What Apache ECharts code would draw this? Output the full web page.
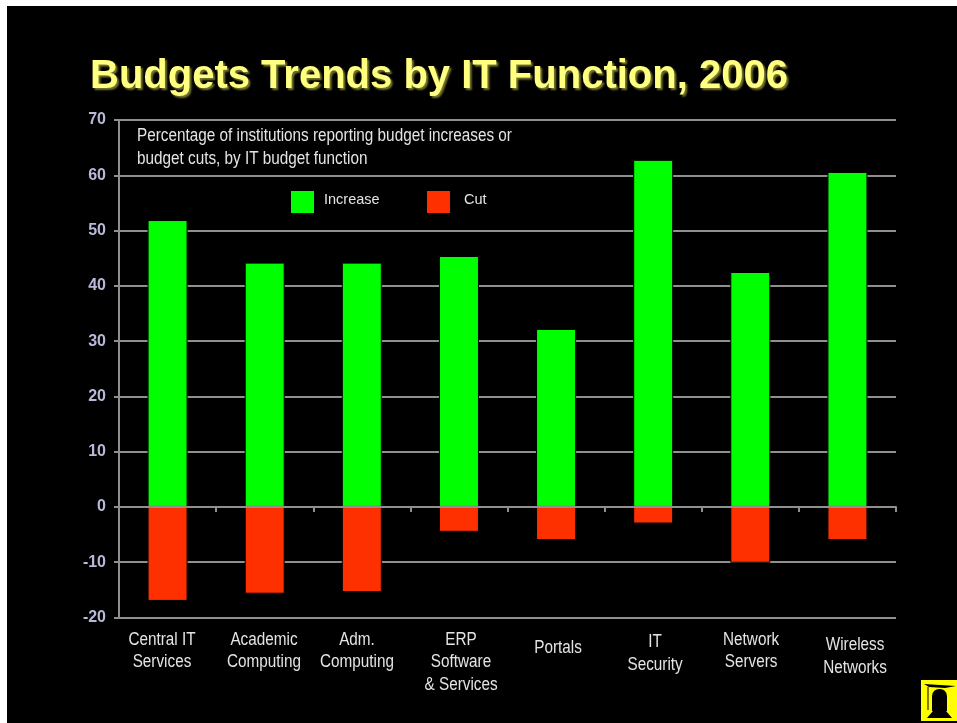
<!DOCTYPE html>
<html>
<head>
<meta charset="utf-8">
<style>
  html, body { margin: 0; height: 100%; background: #fff; overflow: hidden; }
  #frame { position: absolute; left: 7px; top: 6px; right: 0; bottom: 0; background: #000; }
  #chart { position: absolute; left: 0; top: 0; width: 957px; height: 723px; }
</style>
<script src="https://cdn.jsdelivr.net/npm/echarts@6/dist/echarts.min.js"></script>
</head>
<body>
<div id="frame"></div>
<div id="chart"></div>
<script>
const categories = ["Central IT\nServices", "Academic\nComputing", "Adm.\nComputing", "ERP\nSoftware\n& Services", "Portals", "IT\nSecurity", "Network\nServers", "Wireless\nNetworks"];
const increase = [51.9, 44.2, 44.2, 45.4, 32.2, 62.8, 42.5, 60.6];
const cut = [-17, -15.7, -15.4, -4.5, -6, -3, -10.1, -6];

// the slide's labels are hand placed, so they sit off the band centres
const labelDx = [-5.6, -0.7, -4.8, 2.1, 2, 1.9, 0.8, 7.6];
const labelTop = [628.5, 628.5, 628.5, 628.5, 637, 631, 628.5, 634];

const fontName = '"Liberation Sans", sans-serif';
const textColor = "#e4e4e4";
const gridColor = "#8f8f8f";
const squeeze = 0.874; // source text is a condensed Arial

const chart = echarts.init(document.getElementById("chart"), null, { renderer: "canvas" });

const legendText = (leftPad) => ({
  color: textColor,
  fontFamily: fontName,
  fontSize: 14.5,
  rich: { t: { color: textColor, fontFamily: fontName, fontSize: 14.5, padding: [0, 0, 4, leftPad] } },
});

chart.setOption({
  animation: false,
  backgroundColor: "transparent",
  title: {
    text: "Budgets Trends by IT Function, 2006",
    left: 85,
    top: 52,
    padding: 5,
    textStyle: {
      color: "#ffff80",
      fontFamily: "Liberation Sans",
      fontWeight: "bold",
      fontSize: 40,
      textShadowColor: "rgba(150,150,60,0.8)",
      textShadowBlur: 2,
      textShadowOffsetX: 2,
      textShadowOffsetY: 2,
    },
  },
  legend: [
    {
      data: ["Increase"],
      left: 291,
      top: 191,
      padding: 0,
      itemWidth: 23,
      itemHeight: 22,
      icon: "rect",
      itemStyle: { borderWidth: 0 },
      formatter: "{t|{name}}",
      textStyle: legendText(5),
    },
    {
      data: ["Cut"],
      left: 427,
      top: 191,
      padding: 0,
      itemWidth: 23,
      itemHeight: 22,
      icon: "rect",
      itemStyle: { borderWidth: 0 },
      formatter: "{t|{name}}",
      textStyle: legendText(9),
    },
  ],
  grid: { left: 119, right: 61, top: 120, bottom: 105.5 },
  xAxis: {
    type: "category",
    data: categories,
    z: 5,
    axisLine: { onZero: true, lineStyle: { color: gridColor, width: 2 } },
    axisTick: { show: true, alignWithLabel: false, length: 5, lineStyle: { color: gridColor, width: 2 } },
    axisLabel: { show: false },
  },
  yAxis: {
    type: "value",
    min: -20,
    max: 70,
    interval: 10,
    axisLine: { show: true, lineStyle: { color: gridColor, width: 2 } },
    axisTick: { show: true, length: 5, lineStyle: { color: gridColor, width: 2 } },
    splitLine: { lineStyle: { color: gridColor, width: 2 } },
    axisLabel: {
      color: "#b8b8d8",
      fontFamily: "Liberation Sans",
      fontWeight: "bold",
      fontSize: 16,
      margin: 13,
    },
  },
  series: [
    {
      name: "Increase",
      type: "bar",
      stack: "budget",
      data: increase,
      barWidth: 40,
      itemStyle: { color: "#00ff00", borderColor: "#000", borderWidth: 1 },
    },
    {
      name: "Cut",
      type: "bar",
      stack: "budget",
      data: cut,
      barWidth: 40,
      itemStyle: { color: "#ff3000", borderColor: "#000", borderWidth: 1 },
    },
  ],
});

// category labels and the note are text on the slide, placed from the grid
const bandLabels = categories.map((name, i) => ({
  type: "text",
  x: chart.convertToPixel({ xAxisIndex: 0 }, i) + labelDx[i],
  y: labelTop[i],
  scaleX: squeeze,
  style: {
    text: name,
    align: "center",
    verticalAlign: "top",
    fill: textColor,
    font: "17.5px " + fontName,
    lineHeight: 22.5,
  },
}));

chart.setOption({
  graphic: [
    ...bandLabels,
    {
      type: "text",
      x: 137,
      y: 125,
      scaleX: squeeze,
      style: {
        text: "Percentage of institutions reporting budget increases or\nbudget cuts, by IT budget function",
        fill: textColor,
        font: "17.5px " + fontName,
        lineHeight: 23,
      },
    },
    {
      type: "group",
      x: 921,
      y: 680,
      children: [
        { type: "rect", shape: { x: 0, y: 0, width: 36, height: 41 }, style: { fill: "#ffff00" } },
        { type: "polygon", shape: { points: [[3, 4], [35, 6], [24, 8], [8, 7]] }, style: { fill: "#000" } },
        { type: "line", shape: { x1: 7, y1: 7, x2: 7, y2: 30 }, style: { stroke: "#000", lineWidth: 1 } },
        { type: "rect", shape: { x: 11, y: 9, width: 15, height: 22, r: [7, 7, 0, 0] }, style: { fill: "#000" } },
        { type: "polygon", shape: { points: [[6, 38], [12, 31], [25, 31], [31, 38]] }, style: { fill: "#000" } },
      ],
    },
  ],
});

window.addEventListener("resize", () => {
  chart.resize();
});
</script>
</body>
</html>
